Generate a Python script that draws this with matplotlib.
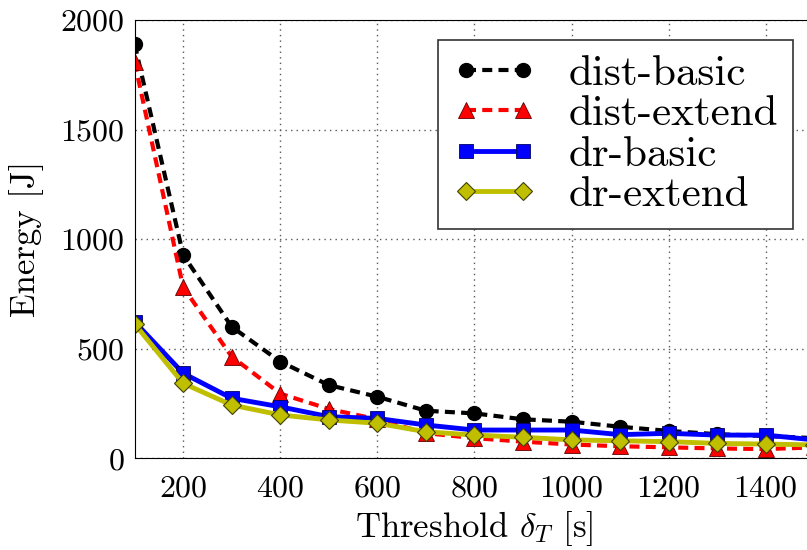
import numpy as np
import matplotlib.pyplot as plt

# ===================== DADOS =====================
threshold = [100, 200, 300, 400, 500, 600, 700, 800, 900, 1000, 1100, 1200, 1300, 1400, 1500]

dist_basic = [1890, 928, 600, 441, 334, 281, 217, 205, 178, 167, 144, 125, 110, 102, 92]
dist_extend = [1808, 780, 464, 295, 225, 178, 115, 92, 76, 63, 55, 50, 45, 42, 50]
dr_basic = [623, 388, 274, 235, 190, 182, 152, 129, 129, 129, 108, 114, 106, 106, 84]
dr_extend = [613, 342, 243, 198, 175, 160, 121, 106, 96, 84, 80, 76, 68, 65, 61]

# ===================== ESTILO =====================
plt.rcParams['font.family'] = 'cmr10'
plt.rcParams['mathtext.fontset'] = 'cm'
plt.rcParams['axes.unicode_minus'] = False
plt.rcParams['axes.formatter.use_mathtext'] = True

fig = plt.figure(figsize=(8.07, 5.5), dpi=100)
ax = fig.add_axes([0.1668, 0.1667, 0.8423, 0.797])

DASH = (2.4, 1.5)
ax.plot(threshold, dist_basic, 'k--o', lw=3, ms=10, dashes=DASH, label='dist-basic')
ax.plot(threshold, dist_extend, '--^', color='red', lw=3, ms=11, dashes=DASH,
        mec='#600000', mew=0.6, label='dist-extend')
ax.plot(threshold, dr_basic, '-s', color='blue', lw=3.5, ms=9.5,
        mec='#000060', mew=0.6, label='dr-basic')
ax.plot(threshold, dr_extend, '-D', color='#bfbf00', lw=3.5, ms=9.5,
        mec='#404000', mew=0.8, label='dr-extend')

ax.set_xlim(100, 1500)
ax.set_ylim(0, 2000)
ax.set_xticks([200, 400, 600, 800, 1000, 1200, 1400])
ax.set_yticks([0, 500, 1000, 1500, 2000])
ax.tick_params(labelsize=23, length=0)
ax.tick_params(axis='x', pad=12)
ax.tick_params(axis='y', pad=7)
ax.grid(True, linestyle=(0, (1, 3)), color='0.35', linewidth=1.0)

ax.set_xlabel(r'Threshold $\delta_T$ [s]', fontsize=25, labelpad=5)
ax.set_ylabel('Energy [J]', fontsize=25, labelpad=12)

leg = ax.legend(loc='upper right', bbox_to_anchor=(0.9687, 0.9544), fontsize=31,
                numpoints=2, handlelength=1.93, labelspacing=0.05, borderpad=0.35,
                handletextpad=0.75, borderaxespad=0.0, fancybox=False, framealpha=1)
leg.get_frame().set_edgecolor('0.2')
leg.get_frame().set_linewidth(1.2)

fig.savefig('out.png', dpi=100)
